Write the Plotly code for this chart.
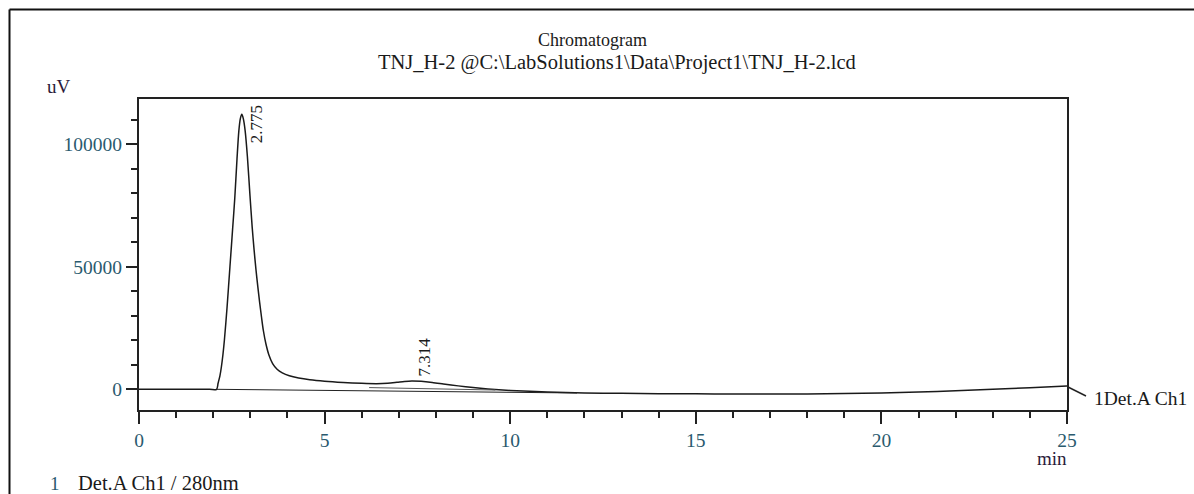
import plotly.graph_objects as go

# ---- data ----
time_min = [0, 1, 1.9, 2.09, 2.13, 2.18, 2.22, 2.26, 2.30, 2.37, 2.45, 2.52, 2.58, 2.64, 2.69, 2.73, 2.77,
            2.81, 2.86, 2.92, 2.99, 3.05, 3.10, 3.15, 3.20, 3.25, 3.30, 3.35, 3.42, 3.50, 3.60, 3.72, 3.86,
            4.05, 4.3, 4.6, 5.0, 5.5, 6.0, 6.4, 6.7, 6.95, 7.15, 7.35, 7.6, 7.9, 8.2, 8.6, 9.0, 9.4,
            10, 11, 12, 13, 14, 15, 16, 17, 18, 19, 20, 21, 22, 23, 24, 25]
signal_uv = [0, 0, 0, 0, 2450, 5500, 9200, 14000, 20000, 33000, 50000, 65000, 78000, 94000, 105500, 110500, 112300,
             110500, 105500, 95000, 79000, 66000, 57000, 49000, 42000, 35500, 29500, 24000, 18500, 14000, 10500, 8200, 6700,
             5500, 4600, 3900, 3300, 2800, 2450, 2300, 2450, 2850, 3200, 3400, 3250, 2800, 2200, 1400, 700, 150,
             -450, -1100, -1500, -1650, -1800, -1850, -1900, -1950, -1900, -1750, -1500, -1100, -600, 0, 650, 1350]

# integration baselines
base1_t = [2.09, 11.8]
base1_v = [0, -1500]
base2_t = [6.2, 9.6]
base2_v = [700, -300]

peak_times = [2.775, 7.314]
peak_heights = [112300, 3400]
peak_labels = ["2.775", "7.314"]

x_ticks = [0, 5, 10, 15, 20, 25]
y_ticks = [0, 50000, 100000]

# ---- layout geometry (pixels) ----
W, H = 1194, 494
L, R, T, B = 139, 127, 99, 84
PW, PH = W - L - R, H - T - B


def px(x):
    return (x - L) / PW


def py(y):
    return (H - B - y) / PH


FONT = "Liberation Serif"
TICKCOL = "#2a5a6e"
TXT = "#1a1a1a"

fig = go.Figure()
fig.add_trace(go.Scatter(x=time_min, y=signal_uv, mode="lines",
                         line=dict(color="#1a1a1a", width=1.5, shape="spline", smoothing=0.8),
                         hoverinfo="x+y", showlegend=False))
fig.add_trace(go.Scatter(x=base1_t, y=base1_v, mode="lines",
                         line=dict(color="#222222", width=1), showlegend=False))
fig.add_trace(go.Scatter(x=base2_t, y=base2_v, mode="lines",
                         line=dict(color="#555555", width=1), showlegend=False))

annotations = []
for t, h, lab, dx, dy in zip(peak_times, peak_heights, peak_labels, [14, 14], [-10, 24]):
    annotations.append(dict(x=t, y=h, xref="x", yref="y", text=lab, showarrow=False,
                            textangle=-90, xshift=dx, yshift=dy,
                            font=dict(family=FONT, size=17, color=TXT)))

annotations += [
    dict(x=px(592), y=py(40), xref="paper", yref="paper", text="Chromatogram", showarrow=False,
         xanchor="center", yanchor="middle", font=dict(family=FONT, size=18, color=TXT)),
    dict(x=px(617), y=py(62), xref="paper", yref="paper",
         text="TNJ_H-2 @C:\\LabSolutions1\\Data\\Project1\\TNJ_H-2.lcd", showarrow=False,
         xanchor="center", yanchor="middle", font=dict(family=FONT, size=20.5, color=TXT)),
    dict(x=px(59), y=py(87), xref="paper", yref="paper", text="uV", showarrow=False,
         xanchor="center", yanchor="middle", font=dict(family=FONT, size=19, color="#2a1a3a")),
    dict(x=px(1052), y=py(458), xref="paper", yref="paper", text="min", showarrow=False,
         xanchor="center", yanchor="middle", font=dict(family=FONT, size=19, color="#2a1a3a")),
    dict(x=px(1092), y=py(398), xref="paper", yref="paper", text="1Det.A Ch1", showarrow=False,
         xanchor="left", yanchor="middle", font=dict(family=FONT, size=19.5, color=TXT)),
    dict(x=px(48), y=py(483), xref="paper", yref="paper", text="1", showarrow=False,
         xanchor="left", yanchor="middle", font=dict(family=FONT, size=19, color=TICKCOL)),
    dict(x=px(76), y=py(483), xref="paper", yref="paper", text="Det.A Ch1 / 280nm", showarrow=False,
         xanchor="left", yanchor="middle", font=dict(family=FONT, size=20.5, color=TXT)),
]

shapes = [
    # outer page frame (left and top edges)
    dict(type="line", xref="paper", yref="paper", x0=px(9.5), y0=py(9.5), x1=px(9.5), y1=py(494),
         line=dict(color="#111111", width=2)),
    dict(type="line", xref="paper", yref="paper", x0=px(9.5), y0=py(9.5), x1=px(1194), y1=py(9.5),
         line=dict(color="#111111", width=2)),
    # channel leader line
    dict(type="line", xref="paper", yref="paper", x0=px(1068), y0=py(387), x1=px(1086), y1=py(396),
         line=dict(color="#222222", width=1.5)),
]

fig.update_layout(
    width=W, height=H,
    margin=dict(l=L, r=R, t=T, b=B),
    paper_bgcolor="white", plot_bgcolor="white",
    showlegend=False,
    annotations=annotations,
    shapes=shapes,
    xaxis=dict(range=[0, 25], tickvals=x_ticks, ticktext=[str(v) for v in x_ticks],
               ticks="outside", ticklen=12, tickwidth=1.5, tickcolor="#222",
               minor=dict(dtick=1, ticks="outside", ticklen=6, tickwidth=1.5, tickcolor="#222"),
               showline=True, linecolor="#222", linewidth=2, mirror=True,
               showgrid=False, zeroline=False,
               tickfont=dict(family=FONT, size=19.5, color=TICKCOL)),
    yaxis=dict(range=[-8450, 118490], tickvals=y_ticks, ticktext=[str(v) for v in y_ticks],
               ticks="outside", ticklen=11, tickwidth=1.5, tickcolor="#222",
               minor=dict(dtick=10000, ticks="outside", ticklen=6, tickwidth=1.5, tickcolor="#222"),
               showline=True, linecolor="#222", linewidth=2, mirror=True,
               showgrid=False, zeroline=False,
               tickfont=dict(family=FONT, size=19.5, color=TICKCOL)),
)

fig.write_html("out.html")
